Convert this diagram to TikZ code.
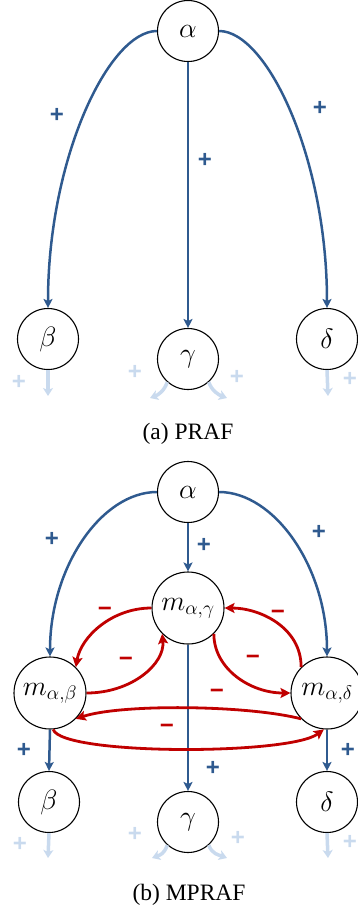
\RequirePackage{fix-cm}
\documentclass[tikz,border=0pt]{standalone}
\usepackage{fontspec}
\setmainfont{Liberation Serif}
\newfontfamily\signfont{Liberation Sans}
\usetikzlibrary{arrows.meta}
\definecolor{posblue}{HTML}{2F5A8F}
\definecolor{negred}{HTML}{C00000}
\definecolor{fadeblue}{HTML}{C9DAEE}
\tikzset{
  arg/.style={
    draw=black, circle, line width=1.1pt, fill=white,
    inner sep=0pt, minimum size=61pt,
    font=\fontsize{28}{32}\selectfont,
  },
  marg/.style={arg, minimum size=72pt},
  posedge/.style={-{Stealth[length=9pt,width=9pt,inset=2pt]}, line width=2.5pt, color=posblue},
  negedge/.style={-{Stealth[length=10pt,width=10pt,inset=2pt]}, line width=2.8pt, color=negred},
  fadeedge/.style={-{Stealth[length=8pt,width=10pt,inset=2pt]}, line width=3.5pt, color=fadeblue},
  plbl/.style={font=\signfont\bfseries\fontsize{24}{24}\selectfont, text=posblue, inner sep=0pt},
  nlbl/.style={plbl, text=negred},
  flbl/.style={plbl, text=fadeblue},
  figcap/.style={font=\fontsize{23.5}{28}\selectfont, inner sep=0pt},
}
\begin{document}
\begin{tikzpicture}[x=1pt, y=-1pt]
  \useasboundingbox (0,0) rectangle (358,914);

  % (a) PRAF
  \node[arg] (a1) at (188,31) {$\alpha$};
  \node[arg] (b1) at (48,339) {$\beta$};
  \node[arg] (g1) at (188,359) {$\gamma$};
  \node[arg] (d1) at (327,339) {$\delta$};

  \draw[posedge] (a1.west) .. controls +(-48,0) and +(0,-150) .. (b1.north);
  \draw[posedge] (a1.south) -- (g1.north);
  \draw[posedge] (a1.east) .. controls +(48,0) and +(0,-150) .. (d1.north);

  \node[plbl] (p1) at (57,115) {+};
  \node[plbl] (p2) at (205,160) {+};
  \node[plbl] (p3) at (320,108) {+};

  \coordinate (b1out) at (48,396);
  \coordinate (g1l) at (150,398);
  \coordinate (g1r) at (227,398);
  \coordinate (d1out) at (328,396);
  \draw[fadeedge] (b1.south) -- (b1out);
  \draw[fadeedge] (g1.-132) .. controls +(-3,9) and +(8,-3) .. (g1l);
  \draw[fadeedge] (g1.-48) .. controls +(3,9) and +(-8,-3) .. (g1r);
  \draw[fadeedge] (d1.south) -- (d1out);
  \node[flbl] (f1) at (19,382) {+};
  \node[flbl] (f2) at (135,372) {+};
  \node[flbl] (f3) at (237,377) {+};
  \node[flbl] (f4) at (350,379) {+};

  \node[figcap] (capa) at (188,434) {(a) PRAF};

  % (b) MPRAF
  \node[arg] (a2) at (188,492) {$\alpha$};
  \node[marg] (mg) at (188,608) {$m_{\alpha,\gamma}$};
  \node[marg] (mb) at (50,693) {$m_{\alpha,\beta}$};
  \node[marg] (md) at (327,693) {$m_{\alpha,\delta}$};
  \node[arg] (b2) at (49,802) {$\beta$};
  \node[arg] (g2) at (188,822) {$\gamma$};
  \node[arg] (d2) at (327,802) {$\delta$};

  \draw[posedge] (a2.west) .. controls +(-55,0) and +(0,-90) .. (mb.north);
  \draw[posedge] (a2.south) -- (mg.north);
  \draw[posedge] (a2.east) .. controls +(55,0) and +(0,-90) .. (md.north);
  \draw[posedge] (mb.south) -- (b2.north);
  \draw[posedge] (mg.south) -- (g2.north);
  \draw[posedge] (md.south) -- (d2.north);

  \draw[negedge] (mg.west) .. controls +(-40,0) and +(5,-30) .. (mb.45);
  \draw[negedge] (mb.east) .. controls +(45,0) and +(3,30) .. (mg.-135);
  \draw[negedge] (md.135) .. controls +(0,-40) and +(35,0) .. (mg.east);
  \draw[negedge] (mg.-45) .. controls +(0,35) and +(-40,0) .. (md.west);
  \draw[negedge] (md.-135) .. controls +(-55,-14) and +(45,-15) .. (mb.-45);
  \draw[negedge] (mb.-85) .. controls +(8,26) and +(-35,26) .. (md.-95);

  \node[plbl] (p4) at (52,539) {+};
  \node[plbl] (p5) at (204,545) {+};
  \node[plbl] (p6) at (319,532) {+};
  \node[plbl] (p7) at (24,750) {+};
  \node[plbl] (p8) at (213,768) {+};
  \node[plbl] (p9) at (348,750) {+};

  \node[nlbl] (n1) at (105,612) {−};
  \node[nlbl] (n2) at (126,662) {−};
  \node[nlbl] (n3) at (278,615) {−};
  \node[nlbl] (n4) at (253,660) {−};
  \node[nlbl] (n5) at (217,694) {−};
  \node[nlbl] (n6) at (167,729) {−};

  \coordinate (b2out) at (48,858);
  \coordinate (g2l) at (152,858);
  \coordinate (g2r) at (227,858);
  \coordinate (d2out) at (328,858);
  \draw[fadeedge] (b2.south) -- (b2out);
  \draw[fadeedge] (g2.-132) .. controls +(-3,9) and +(8,-3) .. (g2l);
  \draw[fadeedge] (g2.-48) .. controls +(3,9) and +(-8,-3) .. (g2r);
  \draw[fadeedge] (d2.south) -- (d2out);
  \node[flbl] (f5) at (20,844) {+};
  \node[flbl] (f6) at (135,834) {+};
  \node[flbl] (f7) at (238,838) {+};
  \node[flbl] (f8) at (350,842) {+};

  \node[figcap] (capb) at (189,895) {(b) MPRAF};
\end{tikzpicture}
\end{document}
